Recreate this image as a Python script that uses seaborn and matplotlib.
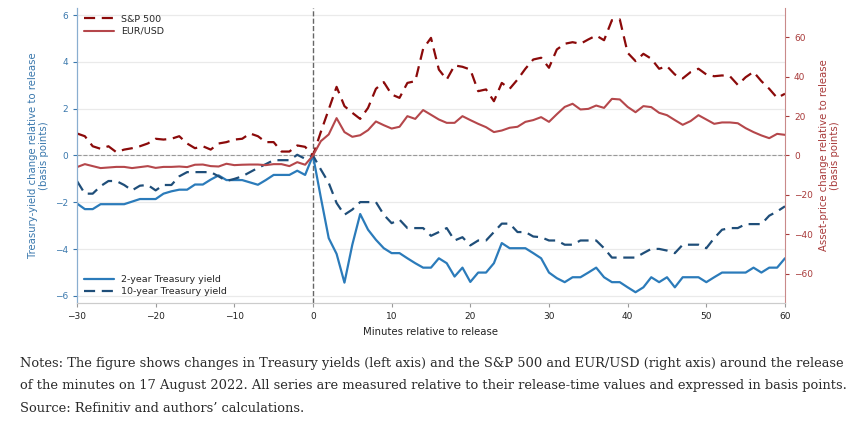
import numpy as np
import pandas as pd
import matplotlib.pyplot as plt
import seaborn as sns

# minutes relative to the release of the minutes
minutes = list(range(-30, 61))

# treasury yields, basis points (left axis)
two_year = [-2.05, -2.29, -2.29, -2.08, -2.08, -2.08, -2.08, -1.97, -1.86, -1.86, -1.86,
            -1.63, -1.53, -1.46, -1.46, -1.24, -1.24, -1.03, -0.85, -1.05, -1.05, -1.05,
            -1.15, -1.25, -1.05, -0.83, -0.83, -0.83, -0.65, -0.83, 0.0,
            -1.8, -3.53, -4.2, -5.43, -3.81, -2.5, -3.17, -3.6, -3.96, -4.17,
            -4.17, -4.39, -4.6, -4.79, -4.79, -4.39, -4.6, -5.17, -4.79, -5.4,
            -5.0, -5.0, -4.6, -3.74, -3.96, -3.96, -3.96, -4.17, -4.39, -5.0,
            -5.24, -5.41, -5.2, -5.2, -5.0, -4.79, -5.2, -5.41, -5.41, -5.63,
            -5.84, -5.63, -5.2, -5.41, -5.2, -5.63, -5.2, -5.2, -5.2, -5.41,
            -5.2, -5.0, -5.0, -5.0, -5.0, -4.79, -5.0, -4.79, -4.79, -4.39]
ten_year = [-1.09, -1.63, -1.63, -1.31, -1.09, -1.09, -1.26, -1.49, -1.29, -1.26, -1.49,
            -1.26, -1.26, -0.89, -0.71, -0.71, -0.71, -0.71, -0.89, -1.09, -1.0, -0.89,
            -0.71, -0.53, -0.37, -0.2, -0.2, -0.2, 0.03, -0.14, 0.0,
            -0.6, -1.17, -2.03, -2.53, -2.31, -1.99, -1.99, -1.99, -2.53, -2.89,
            -2.74, -3.1, -3.1, -3.1, -3.43, -3.27, -3.1, -3.63, -3.49, -3.84,
            -3.63, -3.63, -3.27, -2.91, -2.91, -3.27, -3.27, -3.46, -3.49, -3.63,
            -3.63, -3.81, -3.81, -3.63, -3.63, -3.63, -3.96, -4.36, -4.36, -4.36,
            -4.36, -4.17, -3.99, -3.99, -4.06, -4.17, -3.81, -3.81, -3.81, -3.96,
            -3.53, -3.17, -3.1, -3.1, -2.93, -2.93, -2.93, -2.57, -2.39, -2.17]

# asset prices, basis points (right axis)
sp500 = [11.2, 9.8, 4.7, 3.4, 4.7, 1.7, 3.0, 3.7, 4.7, 6.1, 8.5,
         8.1, 8.5, 9.8, 6.1, 3.7, 4.7, 3.0, 6.1, 6.8, 8.1, 8.5,
         11.2, 9.8, 6.8, 6.8, 2.0, 2.0, 5.1, 4.4, 0.0,
         12.0, 23.4, 34.9, 25.1, 21.7, 18.6, 24.2, 33.9, 37.3, 31.0,
         29.3, 36.9, 37.8, 54.2, 59.8, 43.7, 38.6, 45.8, 45.1, 43.7,
         32.7, 33.6, 27.6, 36.9, 33.9, 38.6, 44.1, 48.8, 49.7, 44.6,
         53.9, 56.8, 57.6, 56.8, 59.0, 61.0, 58.6, 68.8, 69.2, 52.2,
         48.0, 51.7, 49.2, 44.1, 45.4, 41.2, 39.2, 42.4, 44.1, 41.2,
         40.3, 40.7, 40.3, 35.9, 39.8, 42.5, 37.8, 33.9, 29.3, 31.4]
eurusd = [-5.9, -4.4, -5.4, -6.4, -6.1, -5.8, -5.8, -6.4, -5.9, -5.4, -6.3,
          -5.8, -5.8, -5.6, -5.9, -4.7, -4.6, -5.4, -5.6, -4.2, -4.9, -4.7,
          -4.6, -4.6, -4.9, -4.4, -4.4, -5.4, -3.4, -4.7, 0.0,
          7.3, 10.7, 19.0, 11.9, 9.5, 10.3, 12.9, 17.3, 15.4, 13.7,
          14.6, 20.0, 18.6, 23.1, 20.7, 18.3, 16.6, 16.6, 20.0, 18.0,
          16.1, 14.4, 11.9, 12.7, 14.1, 14.6, 17.1, 18.0, 19.5, 17.1,
          21.0, 24.7, 26.3, 23.4, 23.7, 25.4, 24.2, 28.8, 28.5, 24.7,
          22.0, 25.1, 24.6, 21.7, 20.5, 18.0, 15.6, 17.5, 20.5, 18.3,
          16.1, 16.8, 16.8, 16.4, 13.9, 11.9, 10.2, 8.8, 11.0, 10.5]

df = pd.DataFrame({"minute": minutes, "2y": two_year, "10y": ten_year,
                   "sp": sp500, "eur": eurusd})

notes = ("Notes: The figure shows changes in Treasury yields (left axis) and the S&P 500 and EUR/USD (right axis) around the release\n"
         "of the minutes on 17 August 2022. All series are measured relative to their release-time values and expressed in basis points.\n"
         "Source: Refinitiv and authors\u2019 calculations.")

blue = "#3a78ad"
red = "#a83a3a"

sns.set_style("ticks")
plt.rcParams["font.family"] = ["DejaVu Sans"]
plt.rcParams["axes.unicode_minus"] = True

fig = plt.figure(figsize=(8.63, 4.29), dpi=100)
ax = fig.add_axes([0.0892, 0.2937, 0.8204, 0.6877])
ax2 = ax.twinx()

# yields on the left
sns.lineplot(data=df, x="minute", y="2y", ax=ax, color="#2b7bba", lw=1.6,
             label="2-year Treasury yield")
sns.lineplot(data=df, x="minute", y="10y", ax=ax, color="#1f4e79", lw=1.6,
             linestyle=(0, (5, 3)), label="10-year Treasury yield")

# asset prices on the right
sns.lineplot(data=df, x="minute", y="sp", ax=ax2, color="#8b0a0a", lw=1.6,
             linestyle=(0, (5, 3)), label="S&P 500")
sns.lineplot(data=df, x="minute", y="eur", ax=ax2, color="#b5474b", lw=1.5,
             label="EUR/USD")

ax.axhline(0, color="#999999", lw=0.8, ls="--", zorder=1)
ax.axvline(0, color="#666666", lw=1.0, ls="--", zorder=1)

ax.set_xlim(-30, 60)
ax.set_ylim(-6.3, 6.3)
ax2.set_ylim(-75, 75)
ax.set_yticks([-6, -4, -2, 0, 2, 4, 6])
ax2.set_yticks([-60, -40, -20, 0, 20, 40, 60])
ax.set_xticks([-30, -20, -10, 0, 10, 20, 30, 40, 50, 60])
ax.yaxis.grid(True, color="#eaeaea", lw=0.9)
ax.set_axisbelow(True)

ax.set_xlabel("Minutes relative to release", fontsize=7.3, color="#222222")
ax.set_ylabel("Treasury-yield change relative to release\n(basis points)",
              fontsize=7.3, color=blue)
ax2.set_ylabel("Asset-price change relative to release\n(basis points)",
               fontsize=7.3, color=red)

ax.tick_params(axis="y", colors=blue, labelsize=6.5, length=3)
ax.tick_params(axis="x", colors="#999999", labelcolor="#222222", labelsize=6.5, length=3)
ax2.tick_params(axis="y", colors=red, labelsize=6.5, length=3)

for a in (ax, ax2):
    a.spines["top"].set_visible(False)
    a.spines["bottom"].set_color("#cccccc")
ax.spines["right"].set_visible(False)
ax2.spines["left"].set_color("#8aaed0")
ax2.spines["right"].set_color("#c98a8a")
ax.spines["left"].set_color("#8aaed0")

ax.legend(loc="lower left", frameon=False, fontsize=6.8, handlelength=3.2,
          borderaxespad=0.3, labelspacing=0.35)
ax2.legend(loc="upper left", frameon=False, fontsize=6.8, handlelength=3.2,
           borderaxespad=0.3, labelspacing=0.35)

fig.text(0.023, 0.168, notes, fontsize=9.4, family="DejaVu Serif", color="#2a2a2a",
         va="top", linespacing=1.95)

plt.savefig("out.png", dpi=100)
plt.close()
